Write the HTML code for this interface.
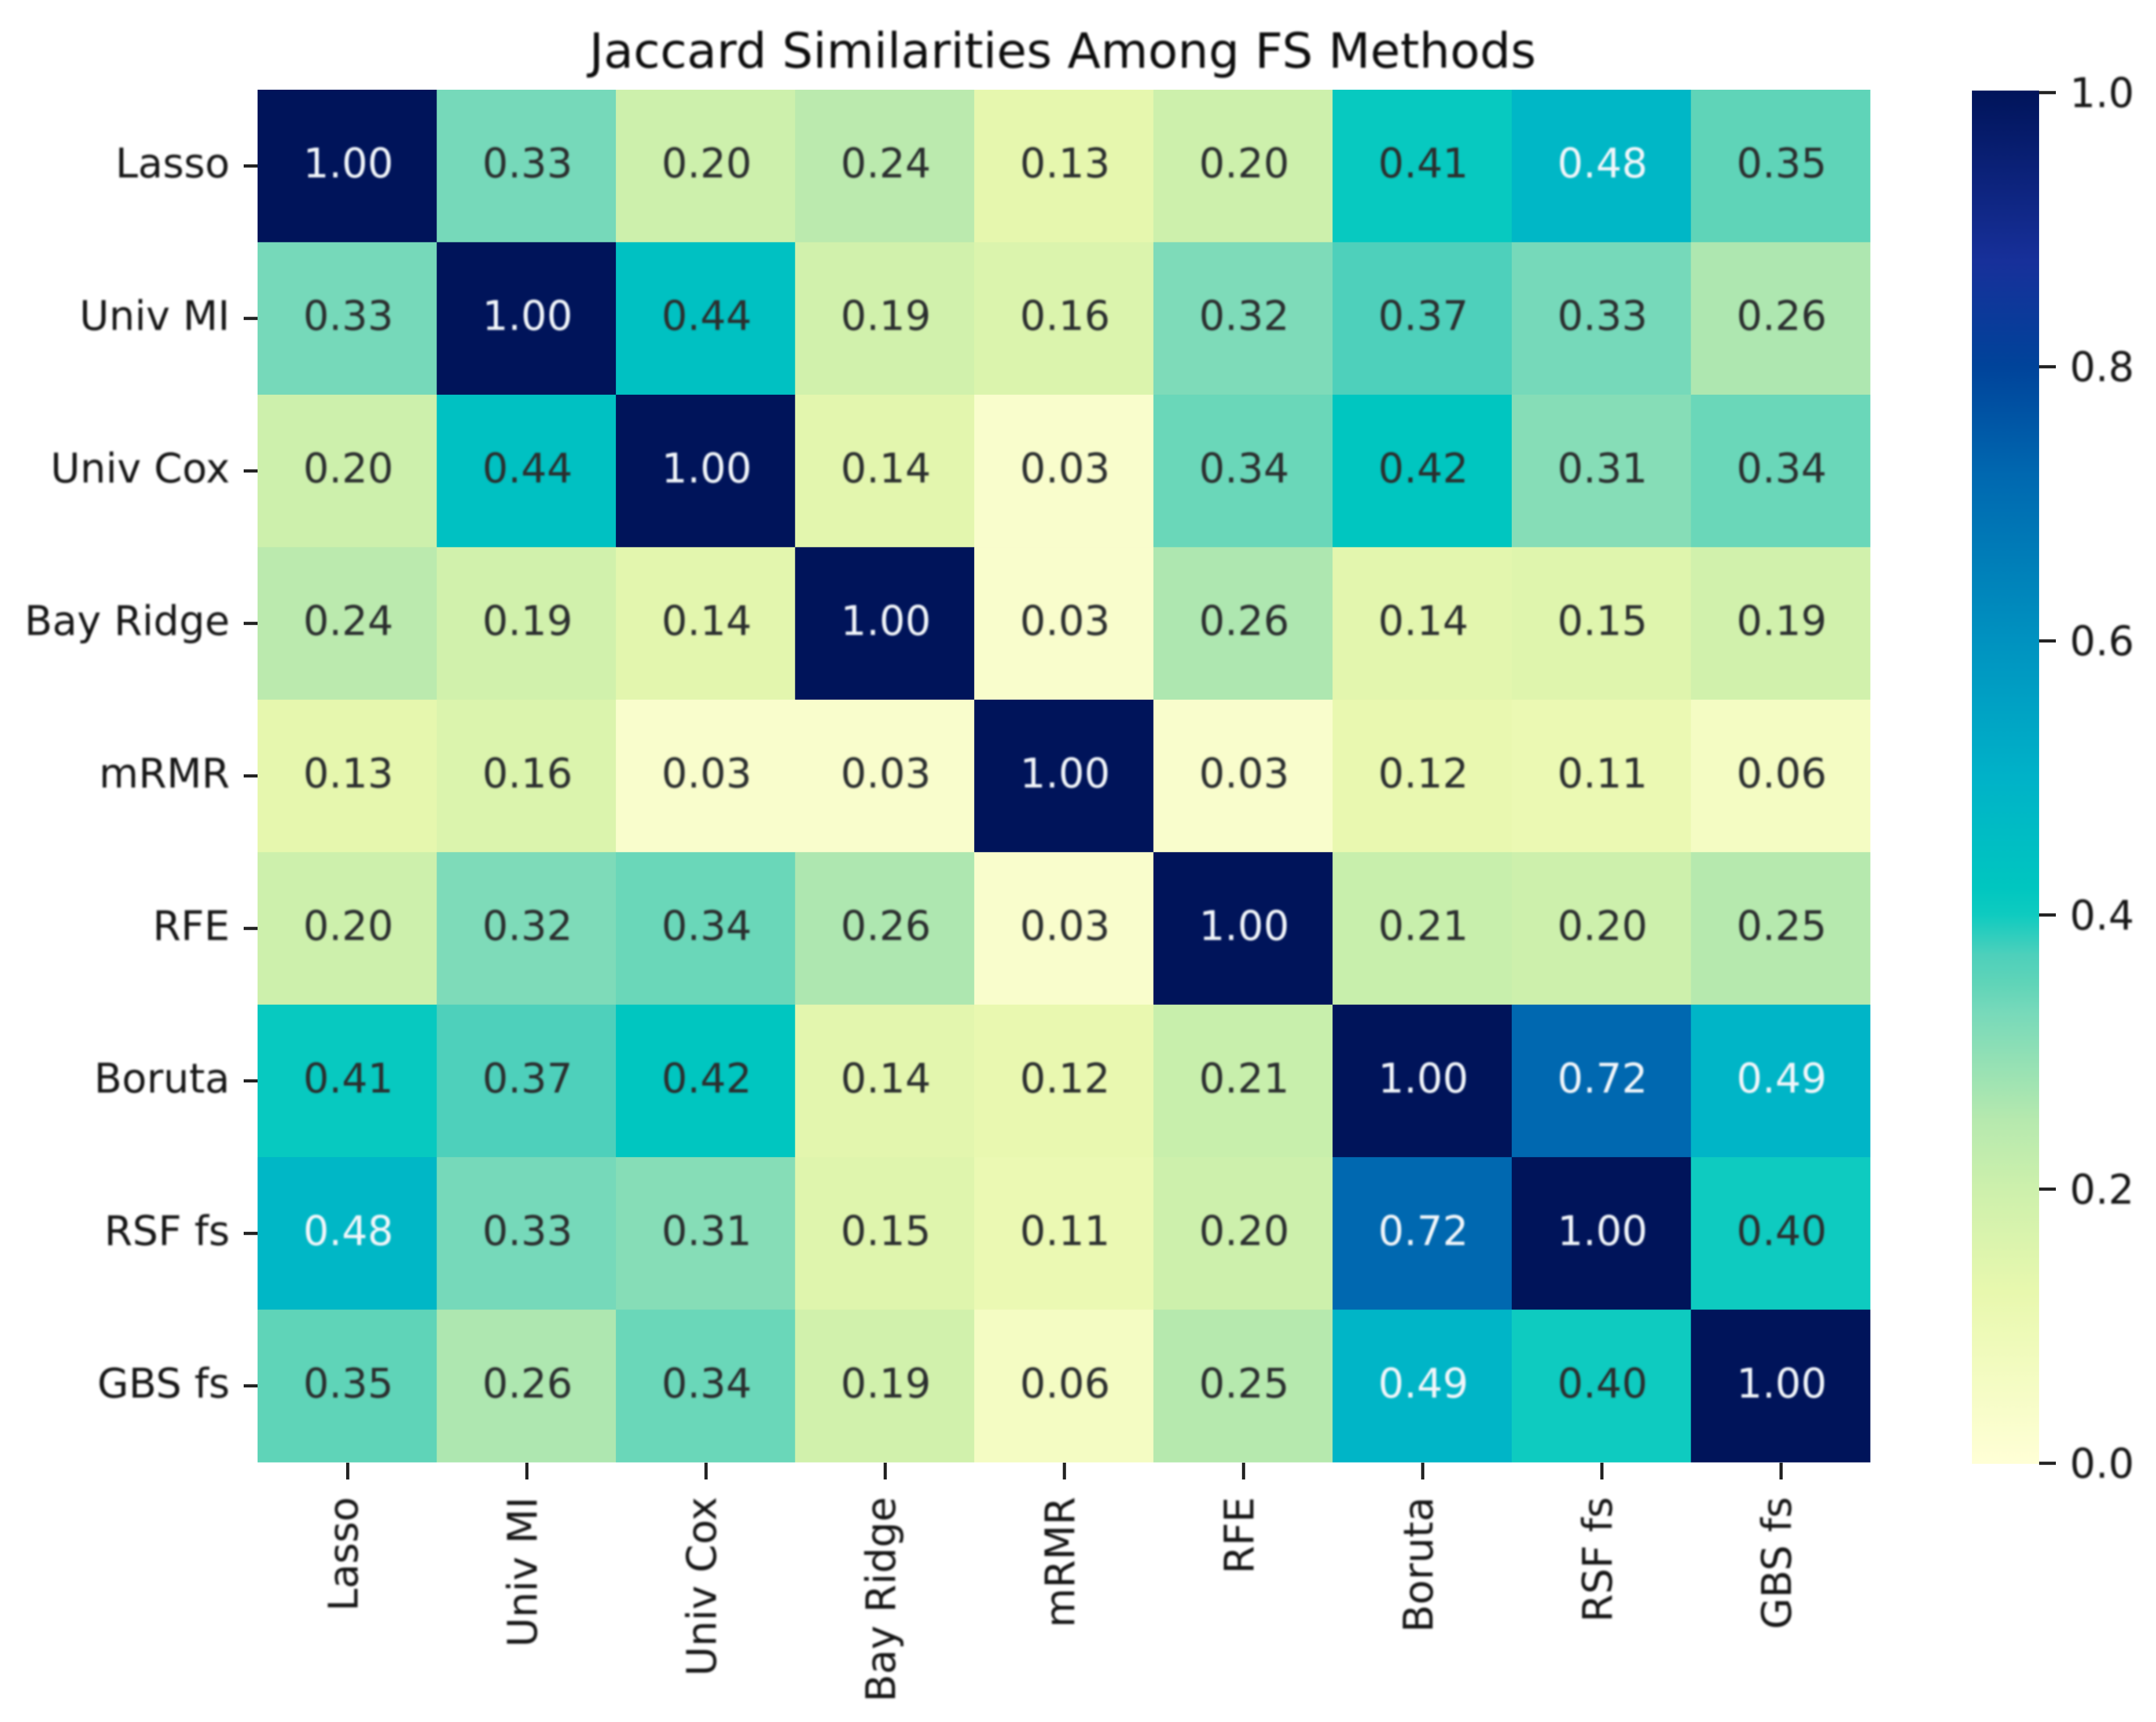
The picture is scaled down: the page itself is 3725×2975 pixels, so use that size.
<!DOCTYPE html>
<html lang="en">
<head>
<meta charset="utf-8">
<title>Jaccard Similarities Among FS Methods</title>
<style>
  html, body { margin: 0; padding: 0; background: #fff; }
  svg { display: block; }
  text { font-family: "DejaVu Sans", "Liberation Sans", sans-serif; }
</style>
</head>
<body>
<svg id="chart" xmlns="http://www.w3.org/2000/svg" width="3725" height="2975" viewBox="0 0 3725 2975">
  <defs>
    <filter id="soft" x="-5%" y="-5%" width="110%" height="110%"><feGaussianBlur stdDeviation="1.5"/></filter>
    <linearGradient id="cbar-gradient" x1="0" y1="1" x2="0" y2="0"></linearGradient>
  </defs>
  <rect x="0" y="0" width="3725" height="2975" fill="#ffffff"/>
  <text x="1836" y="117" font-size="84" text-anchor="middle" fill="#111" filter="url(#soft)">Jaccard Similarities Among FS Methods</text>
  <g id="cells"></g>
  <g id="annotations" filter="url(#soft)"></g>
  <g id="y-axis"></g>
  <g id="x-axis"></g>
  <g id="colorbar"></g>
</svg>
<script>
const methods = ["Lasso", "Univ MI", "Univ Cox", "Bay Ridge", "mRMR", "RFE", "Boruta", "RSF fs", "GBS fs"];
const rowLasso = [1.00, 0.33, 0.20, 0.24, 0.13, 0.20, 0.41, 0.48, 0.35];
const rowUnivMI = [0.33, 1.00, 0.44, 0.19, 0.16, 0.32, 0.37, 0.33, 0.26];
const rowUnivCox = [0.20, 0.44, 1.00, 0.14, 0.03, 0.34, 0.42, 0.31, 0.34];
const rowBayRidge = [0.24, 0.19, 0.14, 1.00, 0.03, 0.26, 0.14, 0.15, 0.19];
const rowMRMR = [0.13, 0.16, 0.03, 0.03, 1.00, 0.03, 0.12, 0.11, 0.06];
const rowRFE = [0.20, 0.32, 0.34, 0.26, 0.03, 1.00, 0.21, 0.20, 0.25];
const rowBoruta = [0.41, 0.37, 0.42, 0.14, 0.12, 0.21, 1.00, 0.72, 0.49];
const rowRSF = [0.48, 0.33, 0.31, 0.15, 0.11, 0.20, 0.72, 1.00, 0.40];
const rowGBS = [0.35, 0.26, 0.34, 0.19, 0.06, 0.25, 0.49, 0.40, 1.00];
const matrix = [rowLasso, rowUnivMI, rowUnivCox, rowBayRidge, rowMRMR, rowRFE, rowBoruta, rowRSF, rowGBS];
const colorbarTicks = [0.0, 0.2, 0.4, 0.6, 0.8, 1.0];

const stopValues = [0, 0.125, 0.2, 0.25, 0.33, 0.35, 0.37, 0.40, 0.42, 0.5, 0.6, 0.72, 0.8, 0.875, 1];
const stopColors = ["#ffffd6", "#e8f8ae", "#cdf0ac", "#b6e9ae", "#76d9ba", "#5fd4b8", "#4ed0bb", "#0ecbc0", "#00c6c0", "#00b2c8", "#0092c0", "#0068b0", "#00439a", "#17309a", "#00145a"];

const NS = "http://www.w3.org/2000/svg";
const plot = { left: 445, right: 3231, top: 155, bottom: 2526 };
const bar = { left: 3407, right: 3523, top: 156.5, bottom: 2529, tickTop: 160, tickBottom: 2528 };
const cellW = (plot.right - plot.left) / methods.length;
const cellH = (plot.bottom - plot.top) / methods.length;
const xScale = i => plot.left + i * cellW;
const yScale = i => plot.top + i * cellH;
const barScale = v => bar.tickBottom - v * (bar.tickBottom - bar.tickTop);

function hexToRgb(h) {
  return [1, 3, 5].map(k => parseInt(h.slice(k, k + 2), 16));
}
function colorFor(v) {
  const t = Math.max(0, Math.min(1, v));
  for (let k = 1; k < stopValues.length; k++) {
    if (t <= stopValues[k]) {
      const f = (t - stopValues[k - 1]) / (stopValues[k] - stopValues[k - 1]);
      const a = hexToRgb(stopColors[k - 1]);
      const b = hexToRgb(stopColors[k]);
      return "rgb(" + a.map((c, n) => Math.round(c + (b[n] - c) * f)).join(",") + ")";
    }
  }
  return stopColors[stopColors.length - 1];
}
function make(tag, parent, attrs, txt) {
  const el = document.createElementNS(NS, tag);
  for (const k in attrs) el.setAttribute(k, attrs[k]);
  if (txt !== undefined) el.textContent = txt;
  parent.appendChild(el);
  return el;
}

const cells = document.getElementById("cells");
const annotations = document.getElementById("annotations");
matrix.forEach((row, r) => {
  row.forEach((v, c) => {
    const rect = make("rect", cells, {
      x: xScale(c), y: yScale(r), width: cellW + 0.5, height: cellH + 0.5, fill: colorFor(v)
    });
    
    
    const label = make("text", annotations, {
      x: xScale(c) + cellW / 2 + 2, y: yScale(r) + cellH / 2 + 20,
      "font-size": 70, "text-anchor": "middle",
      fill: v >= 0.48 ? "#f2f6fa" : "#2a2f2f"
    }, v.toFixed(2));
    
    
  });
});

const yAxis = document.getElementById("y-axis");
const xAxis = document.getElementById("x-axis");
methods.forEach((name, i) => {
  const cy = yScale(i) + cellH / 2;
  const yTick = make("line", yAxis, { x1: plot.left - 24, x2: plot.left, y1: cy, y2: cy, stroke: "#222", "stroke-width": 5.5 });
  
  
  const yLabel = make("text", yAxis, {
    x: 397, y: cy + 20, "font-size": 70, "text-anchor": "end", fill: "#161616", filter: "url(#soft)"
  }, name);
  
  

  const cx = xScale(i) + cellW / 2;
  const xTick = make("line", xAxis, { x1: cx + 1, x2: cx + 1, y1: plot.bottom + 1, y2: plot.bottom + 30, stroke: "#222", "stroke-width": 5.5 });
  
  
  const bx = cx + 18;
  const by = 2586;
  const xLabel = make("text", xAxis, {
    x: bx, y: by, "font-size": 70, "text-anchor": "end", fill: "#161616",
    transform: "rotate(-90 " + bx + " " + by + ")", filter: "url(#soft)"
  }, name);
  
  
});

const gradient = document.getElementById("cbar-gradient");
stopValues.forEach((v, k) => {
  make("stop", gradient, { offset: v, "stop-color": stopColors[k] });
});
const cbar = document.getElementById("colorbar");
const cbarRect = make("rect", cbar, {
  x: bar.left, y: bar.top, width: bar.right - bar.left, height: bar.bottom - bar.top, fill: "url(#cbar-gradient)"
});


colorbarTicks.forEach(v => {
  const y = barScale(v);
  const tick = make("line", cbar, { x1: bar.right, x2: bar.right + 29, y1: y, y2: y, stroke: "#222", "stroke-width": 5.5 });
  
  
  const label = make("text", cbar, {
    x: 3576, y: y + 25, "font-size": 70, fill: "#161616", filter: "url(#soft)"
  }, v.toFixed(1));
  
  
});
</script>
</body>
</html>
